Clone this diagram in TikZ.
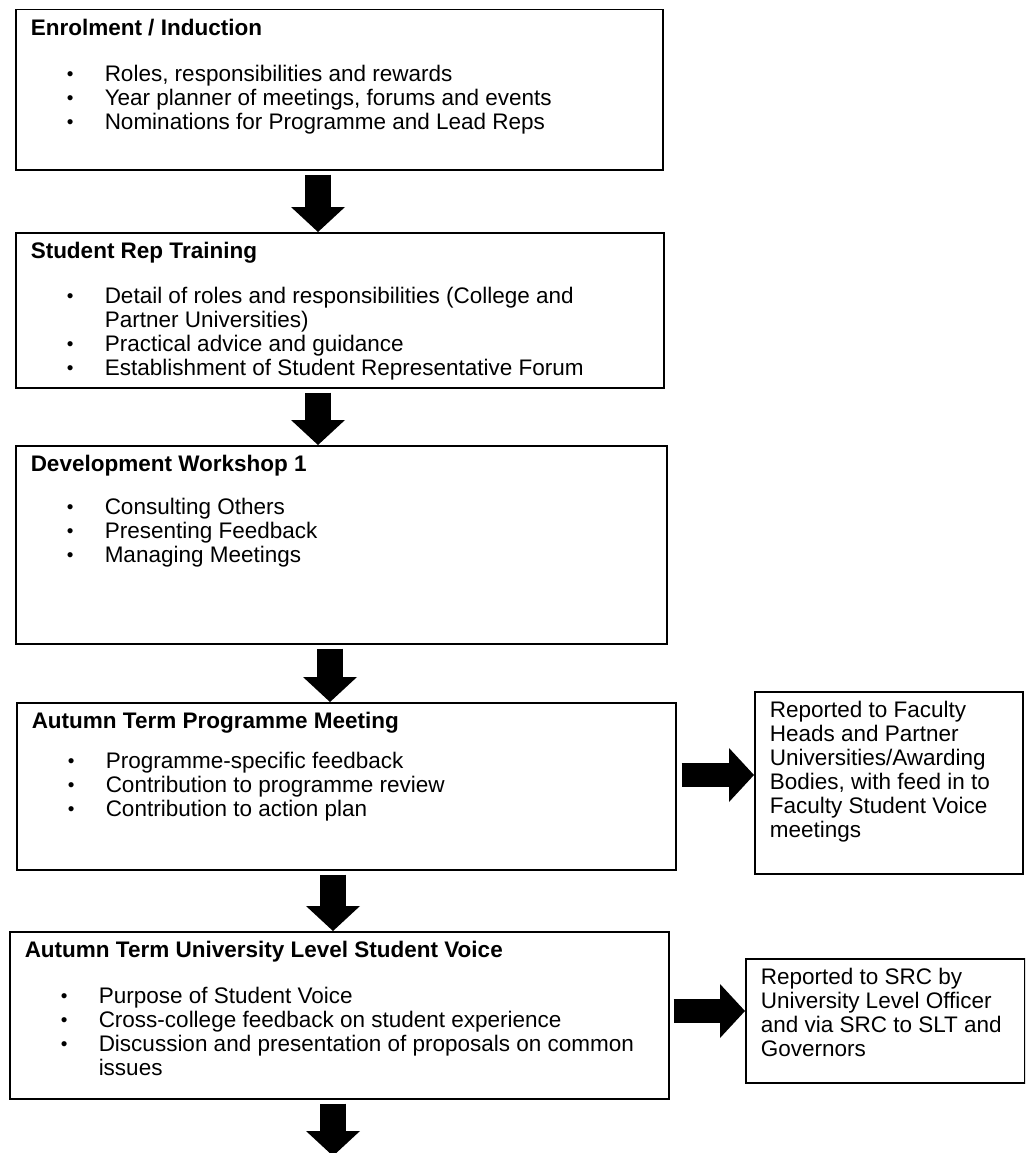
\documentclass[tikz,border=0pt]{standalone}
\usepackage{fontspec}
\setmainfont{Liberation Sans}
\usetikzlibrary{arrows.meta}

% text block of a stage box: width, height, content
\newcommand{\boxtext}[3]{\begin{minipage}[t][#2][t]{#1}\raggedright #3\end{minipage}}
\newcommand{\boxtitle}[1]{\textbf{\rule{0pt}{17pt}#1}\par}
\newcommand{\bul}{\par\noindent\hangindent=74pt\hangafter=1\makebox[74pt][l]{\hspace{36pt}\raisebox{1.5pt}{\fontsize{19}{19}\selectfont\textbullet}}}

\begin{document}
\begin{tikzpicture}[
            x=1pt, y=-1pt,
            font=\fontsize{22.5}{24}\selectfont,
            % Styles
            stagebox/.style={rectangle, draw, line width=1.5pt, anchor=north west, inner xsep=15pt, inner ysep=9pt},
            notebox/.style={rectangle, draw, line width=1.5pt, anchor=north west, inner xsep=15pt, inner ysep=9pt},
            downarrow/.style={line width=26pt, -{Triangle[length=25pt, width=54pt, line width=0pt]}},
            sidearrow/.style={line width=24pt, -{Triangle[length=25pt, width=54pt, line width=0pt]}}
        ]
        \clip (0,0) rectangle (1025,1153);
        \fill[white] (0,0) rectangle (1025,1153);

        % --- MAIN COLUMN ---
        \node (enrol) [stagebox] at (15,9) {\boxtext{617pt}{142pt}{%
            \boxtitle{Enrolment / Induction}\vspace{22pt}%
            \bul Roles, responsibilities and rewards
            \bul Year planner of meetings, forums and events
            \bul Nominations for Programme and Lead Reps}};
        \node (training) [stagebox] at (15,232) {\boxtext{618pt}{137pt}{%
            \boxtitle{Student Rep Training}\vspace{21pt}%
            \bul Detail of roles and responsibilities (College and\newline Partner Universities)
            \bul Practical advice and guidance
            \bul Establishment of Student Representative Forum}};
        \node (workshop) [stagebox] at (15,445) {\boxtext{621pt}{180pt}{%
            \boxtitle{Development Workshop 1}\vspace{19pt}%
            \bul Consulting Others
            \bul Presenting Feedback
            \bul Managing Meetings}};
        \node (meeting) [stagebox] at (16,702) {\boxtext{629pt}{149pt}{%
            \boxtitle{Autumn Term Programme Meeting}\vspace{16pt}%
            \bul Programme-specific feedback
            \bul Contribution to programme review
            \bul Contribution to action plan}};
        \node (voice) [stagebox] at (9,931) {\boxtext{629pt}{149pt}{%
            \boxtitle{Autumn Term University Level Student Voice}\vspace{22pt}%
            \bul Purpose of Student Voice
            \bul Cross-college feedback on student experience
            \bul Discussion and presentation of proposals on common\newline issues}};
        \coordinate (nextstage) at (333,1156);

        % --- REPORTING BOXES ---
        \node (faculty) [notebox] at (754,691) {\boxtext{238pt}{164pt}{%
            \rule{0pt}{17pt}Reported to Faculty\\Heads and Partner\\Universities/Awarding\\Bodies, with feed in to\\Faculty Student Voice\\meetings}};
        \node (src) [notebox] at (745,958) {\boxtext{249pt}{106pt}{%
            \rule{0pt}{17pt}Reported to SRC by\\University Level Officer\\and via SRC to SLT and\\Governors}};

        % --- FLOW DOWN ---
        \draw [downarrow, shorten <=4pt] (enrol.south -| 318,0) -- (training.north -| 318,0);
        \draw [downarrow, shorten <=4pt] (training.south -| 318,0) -- (workshop.north -| 318,0);
        \draw [downarrow, shorten <=4pt] (workshop.south -| 330,0) -- (meeting.north -| 330,0);
        \draw [downarrow, shorten <=4pt] (meeting.south -| 333,0) -- (voice.north -| 333,0);
        \draw [downarrow, shorten <=4pt] (voice.south -| 333,0) -- (nextstage);

        % --- FLOW ACROSS ---
        \draw [sidearrow, shorten <=5pt] (meeting.east |- 0,775) -- (faculty.west |- 0,775);
        \draw [sidearrow, shorten <=4pt] (voice.east |- 0,1011) -- (src.west |- 0,1011);

\end{tikzpicture}
\end{document}
